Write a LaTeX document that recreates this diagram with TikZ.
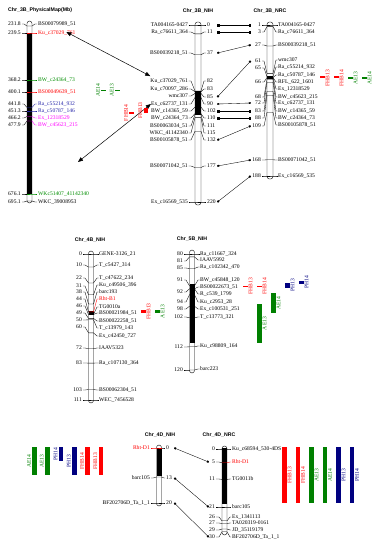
\documentclass[tikz,border=0pt]{standalone}
\usepackage{fontspec}
\setmainfont{Liberation Serif}
\setsansfont{Liberation Sans}
\usepackage{tikz}
\usetikzlibrary{arrows.meta, calc}
\definecolor{mkred}{RGB}{255,0,0}
\definecolor{mkgreen}{RGB}{0,140,0}
\definecolor{mkblue}{RGB}{40,40,170}
\definecolor{mkpink}{RGB}{255,0,255}
\definecolor{qtlgreen}{RGB}{0,128,0}
\definecolor{qtlblue}{RGB}{0,0,128}
\newcommand{\lblfont}{\fontsize{5.6}{6}\selectfont}
\newcommand{\ttlfont}{\sffamily\bfseries\fontsize{5.2}{6}\selectfont}

\begin{document}
\begin{tikzpicture}[x=1pt, y=-1pt,
    chrom/.style={draw, line width=0.4pt, rounded corners=2.5pt},
    mline/.style={line width=0.35pt},
    lbl/.style={font=\lblfont, inner sep=0pt},
    ttl/.style={font=\ttlfont, inner sep=0pt},
    qtl/.style={font=\lblfont, inner sep=0pt, rotate=90},
    link/.style={line width=0.35pt, {Square[length=1.8pt,width=1.8pt]}-{Square[length=1.8pt,width=1.8pt]}},
    cmp/.style={line width=0.5pt, {Triangle[length=5pt,width=4pt]}-{Triangle[length=5pt,width=4pt]}}]
    \useasboundingbox (0,0) rectangle (380,550);

    % Chr_3B physical map
    \node[ttl, anchor=west] (tphys) at (8,10) {Chr\_3B\_PhysicalMap(Mb)};
    \fill[black] (27,33) rectangle (32,194);
    \draw[chrom] (27,21) rectangle (32,203);
    \foreach \ya/\yl/\num/\name/\col [count=\k] in {
        26/24/231.8/BS00079989\_51/black,
        33/33/239.5/Ku\_c37029\_761/mkred,
        80/80/368.2/BW\_c24364\_73/mkgreen,
        92/92/400.1/BS00049639\_51/mkred,
        107.5/104/441.8/Ra\_c55214\_932/mkblue,
        111/111/451.3/Ra\_c50787\_146/mkblue,
        116.5/118/466.2/Ex\_12318529/mkpink,
        121/125/477.9/BW\_c45623\_215/mkpink,
        194/194/676.1/WKc51407\_41142340/mkgreen,
        201/202/695.1/WKC\_39008953/black} {
        \draw[mline] (22,\yl) -- (24,\yl) -- (27,\ya);
        \draw[mline, color=\col] (27,\ya) -- (32,\ya) -- (35,\yl) -- (37,\yl);
        \node[lbl, anchor=east] (pn\k) at (21,\yl) {\num};
        \node[lbl, anchor=west, text=\col] (pl\k) at (38,\yl) {\name};
    }

    % Chr_3B_NIH
    \node[ttl] (tnih3b) at (198,11) {Chr\_3B\_NIH};
    \fill[black] (195,91) rectangle (201,114.5);
    \draw[chrom] (195,22) rectangle (201,205);
    \foreach \ya/\yl/\name [count=\k] in {
        25/25/TA004165-0427, 33.9/32/Ra\_c76611\_364, 54.8/53/BS00039218\_51,
        91/81/Ku\_c37029\_761, 91.8/89/Ku\_c70097\_286, 93.4/96/wmc307,
        97.5/104/Ex\_c62737\_131, 107.1/111/BW\_c14365\_59, 113.6/118/BW\_c24364\_73,
        114.4/126/BS00063034\_51, 117.6/133/WKC\_41142340, 131.3/140/BS00105878\_51,
        167.5/166/BS00071042\_51, 202/202/Ex\_c16569\_535} {
        \draw[mline] (188.5,\yl) -- (191,\yl) -- (195,\ya) -- (201,\ya);
        \node[lbl, anchor=east] (nl\k) at (188,\yl) {\name};
    }
    \foreach \ya/\yn/\num [count=\k] in {
        25/25/0, 33.9/32/11, 54.8/53/37, 91/81/82, 91.8/89/83, 93.4/97/85, 97.5/104/90,
        107.1/111/102, 113.6/118/110, 114.4/126/111, 117.6/133/115, 131.3/140/132,
        167.5/166/177, 202/202/220} {
        \draw[mline] (201,\ya) -- (204,\yn) -- (206,\yn);
        \node[lbl, anchor=west, text width=10pt, align=left] (nn\k) at (207,\yn) {\num};
    }

    % Chr_3B_NRC
    \node[ttl] (tnrc3b) at (270,11) {Chr\_3B\_NRC};
    \fill[black] (267,76) rectangle (273,79);
    \draw[chrom] (267,22) rectangle (273,179);
    \foreach \ya/\yl/\name [count=\k] in {
        25/25/TA004165-0427, 26.6/32/Ra\_c76611\_364, 46/45/BS00039218\_51,
        73.4/60/wmc307, 76.7/67/Ra\_c55214\_932, 77.5/75/Ra\_c50787\_146,
        77.5/82/RFL\_622\_1601, 77.5/89/Ex\_12318529, 79.1/97/BW\_c45623\_215,
        82.3/103/Ex\_c62737\_131, 91.2/111/BW\_c14365\_59, 95.2/118/BW\_c24364\_73,
        112.2/125/BS00105878\_51, 159.8/160/BS00071042\_51, 176/176/Ex\_c16569\_535} {
        \draw[mline] (267,\ya) -- (273,\ya) -- (276,\yl) -- (277.5,\yl);
        \node[lbl, anchor=west] (rl\k) at (278,\yl) {\name};
    }
    \foreach \ya/\yn/\num [count=\k] in {
        25/25/1, 26.6/32/3, 46/45/27, 73.4/61/61, 76.7/68/65, 77.5/82/66, 79.1/97/68,
        82.3/103/72, 91.2/111/83, 95.2/118/88, 112.2/126/109, 159.8/160/168, 176/176/188} {
        \draw[mline] (267,\ya) -- (264,\yn) -- (262,\yn);
        \node[lbl, anchor=east, text width=10pt, align=right] (rn\k) at (261,\yn) {\num};
    }

    % shared markers NIH - NRC
    \foreach \a/\b in {1/1, 2/2, 3/3, 6/4, 7/8, 8/9, 9/10, 12/11, 13/12, 14/13}
        \draw[link] (nn\a.east) -- (rn\b.west);

    % physical map vs genetic map
    \coordinate (pgap) at (78,162);
    \draw[cmp] ([xshift=9.5pt,yshift=1pt]pl2.center) -- ([yshift=2.5pt]nl4.north west);
    \draw[cmp] (pgap) -- (nl7.west);

    % QTL left of Chr_3B_NIH
    \foreach \x/\ya/\yb/\col/\name [count=\k] in {
        101/89.5/91/qtlgreen/AE14, 115/89.5/91/qtlgreen/AE13,
        129/112/113.5/mkred/FHB14, 143.5/108/113/mkred/FHB13} {
        \fill[fill=\col] (\x,\ya) rectangle (\x+4.5,\yb);
        \node[qtl, anchor=south, text=\col] (qa\k) at (\x-1,{(\ya+\yb)/2}) {\name};
    }

    % QTL right of Chr_3B_NRC
    \foreach \x/\ya/\yb/\col/\name [count=\k] in {
        320/76.2/77.5/mkred/FHB13, 334/76.2/77.5/mkred/FHB14,
        348/77.2/79/qtlgreen/AE13, 362/77.2/79/qtlgreen/AE14} {
        \fill[fill=\col] (\x,\ya) rectangle (\x+4.5,\yb);
        \node[qtl, anchor=north, text=\col] (qb\k) at (\x+5.5,78) {\name};
    }

    % Chr_4B_NIH
    \node[ttl] (tnih4b) at (90,240) {Chr\_4B\_NIH};
    \fill[black] (88.5,311) rectangle (93.5,315);
    \draw[chrom] (88.5,251) rectangle (93.5,403);
    \foreach \ya/\yl/\name/\col [count=\k] in {
        254/254/GENE-3126\_21/black, 267/265/T\_c5427\_314/black,
        283/278/T\_c47622\_234/black, 294.8/285/Ku\_c49506\_396/black,
        304/292/barc193/black, 311.9/299/Rht-B1/mkred, 314.5/307/TG0010a/black,
        314.5/313/BS00021984\_51/black, 318.4/321/BS00022258\_51/black,
        319.8/328/T\_c13979\_143/black, 332.9/336/Ex\_c42450\_727/black,
        348.7/348/IAAV5323/black, 363.1/363/Ra\_c107130\_364/black,
        389.5/390/BS00062304\_51/black, 400/400/WEC\_7456528/black} {
        \draw[mline, color=\col] (88.5,\ya) -- (93.5,\ya) -- (97,\yl) -- (98.5,\yl);
        \node[lbl, anchor=west, text=\col] (fl\k) at (99,\yl) {\name};
    }
    \foreach \ya/\yn/\num [count=\k] in {
        254/254/0, 267/265/10, 283/278/22, 294.8/286/31, 304/292/38, 311.9/299/44,
        314.5/306/46, 318.4/313/49, 319.8/320/50, 332.9/327/60, 348.7/348/72,
        363.1/363/83, 389.5/390/103, 400/400/111} {
        \draw[mline] (88.5,\ya) -- (85,\yn) -- (83,\yn);
        \node[lbl, anchor=east] (fn\k) at (82,\yn) {\num};
    }
    \foreach \x/\col/\name [count=\k] in {141/mkred/FHB13, 155/qtlgreen/AE13} {
        \fill[fill=\col] (\x,310) rectangle (\x+4.5,313);
        \node[qtl, anchor=north, text=\col] (qc\k) at (\x+5.5,311.5) {\name};
    }

    % Chr_5B_NIH
    \node[ttl] (tnih5b) at (192,239) {Chr\_5B\_NIH};
    \fill[black] (189.5,284) rectangle (194.5,343);
    \draw[chrom] (189.5,250) rectangle (194.5,373);
    \foreach \ya/\yl/\name [count=\k] in {
        254/254/Ra\_c11667\_324, 256.9/260/IAAV5992, 268.5/267/Ra\_c102342\_470,
        285.9/280/BW\_c45848\_120, 288.8/287/BS00022673\_51, 288.8/294/R\_c539\_1799,
        294.6/302/Ku\_c2953\_28, 306.2/309/Ex\_c100531\_251, 317.8/317/T\_c13773\_321,
        346.8/346/Ku\_c98809\_164, 370/369/barc223} {
        \draw[mline] (189.5,\ya) -- (194.5,\ya) -- (198,\yl) -- (199.5,\yl);
        \node[lbl, anchor=west] (sl\k) at (200,\yl) {\name};
    }
    \foreach \ya/\yn/\num [count=\k] in {
        254/254/80, 256.9/261/81, 268.5/268/85, 285.9/280/91, 288.8/292/92,
        294.6/302/94, 306.2/309/98, 317.8/317/102, 346.8/347/112, 370/370/120} {
        \draw[mline] (189.5,\ya) -- (186,\yn) -- (184,\yn);
        \node[lbl, anchor=east] (sn\k) at (183,\yn) {\num};
    }
    \foreach \x/\ya/\yb/\col/\name [count=\k] in {
        243/285.5/287/mkred/FHB13, 257/285.5/287/mkred/FHB14,
        257/304/343/qtlgreen/AE13, 271/293/313/qtlgreen/AE14,
        285/283/287.5/qtlblue/PH13, 299/280.5/284/qtlblue/PH14} {
        \fill[fill=\col] (\x,\ya) rectangle (\x+4.5,\yb);
        \node[qtl, anchor=north, text=\col] (qd\k) at (\x+5.5,{(\ya+\yb)/2}) {\name};
    }

    % Chr_4D_NIH
    \node[ttl] (tnih4d) at (160,435) {Chr\_4D\_NIH};
    \fill[black] (156.5,448) rectangle (161.5,476);
    \draw[chrom] (156.5,445) rectangle (161.5,506);
    \foreach \ya/\yl/\name/\col [count=\k] in {
        448/448/Rht-D1/mkred, 477/478/barc105/black, 503/503/BF202706D\_Ta\_1\_1/black} {
        \draw[mline, color=\col] (151,\yl) -- (153,\yl) -- (156.5,\ya) -- (161.5,\ya);
        \node[lbl, anchor=east, text=\col] (dl\k) at (150,\yl) {\name};
    }
    \foreach \ya/\yn/\num [count=\k] in {448/448/0, 477/478/13, 503/503/20} {
        \draw[mline] (161.5,\ya) -- (164,\yn) -- (165,\yn);
        \node[lbl, anchor=west, text width=8pt, align=left] (dn\k) at (166,\yn) {\num};
    }
    \foreach \x/\yb/\col/\name [count=\k] in {
        32/475/qtlgreen/AE14, 45/475/qtlgreen/AE13, 58.5/461/qtlblue/PH14,
        72/475/qtlblue/PH13, 85/475/mkred/FHB14, 98.5/475/mkred/FHB13} {
        \fill[fill=\col] (\x,447) rectangle (\x+4.5,\yb);
        \node[qtl, anchor=south, text=\col] (qe\k) at (\x-1,{(447+\yb)/2}) {\name};
    }

    % Chr_4D_NRC
    \node[ttl] (tnrc4d) at (219,435) {Chr\_4D\_NRC};
    \fill[black] (222,448) rectangle (227,504);
    \draw[chrom] (222,446) rectangle (227,535);
    \foreach \ya/\yl/\name/\col [count=\k] in {
        449/449/Ku\_c68594\_530-4DS/black, 462.8/462/Rht-D1/mkred,
        479.4/479/TG0011b/black, 507/507/barc105/black, 520.8/517/Ex\_1341113/black,
        523.5/523/TA020319-0161/black, 529/530/JD\_35119179/black,
        531.8/537/BF202706D\_Ta\_1\_1/black} {
        \draw[mline, color=\col] (222,\ya) -- (227,\ya) -- (230,\yl) -- (231,\yl);
        \node[lbl, anchor=west, text=\col] (el\k) at (232,\yl) {\name};
    }
    \foreach \ya/\yn/\num [count=\k] in {
        449/449/0, 462.8/462/5, 479.4/479/11, 507/507/21, 520.8/517/26,
        523.5/523/27, 529/530/29, 531.8/537/30} {
        \draw[mline] (222,\ya) -- (219,\yn) -- (216,\yn);
        \node[lbl, anchor=east, text width=6pt, align=right] (en\k) at (215,\yn) {\num};
    }
    \foreach \a/\b in {1/2, 2/4, 3/8}
        \draw[link] (dn\a.east) -- (en\b.west);
    \foreach \x/\col/\name [count=\k] in {
        282/mkred/FHB13, 295.5/mkred/FHB14, 309/qtlgreen/AE13,
        322.5/qtlgreen/AE14, 336/qtlblue/PH13, 349.5/qtlblue/PH14} {
        \fill[fill=\col] (\x,447) rectangle (\x+4.5,503);
        \node[qtl, anchor=north, text=\col] (qf\k) at (\x+5.5,475) {\name};
    }
\end{tikzpicture}
\end{document}
